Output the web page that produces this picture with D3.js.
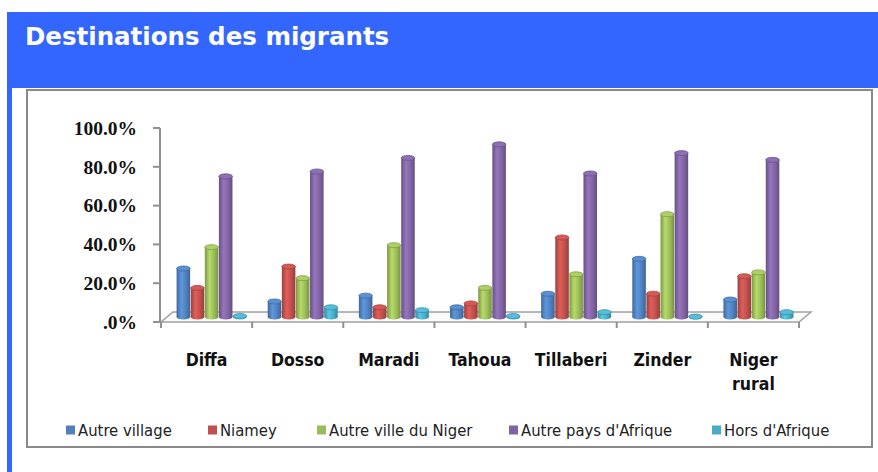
<!DOCTYPE html>
<html>
<head>
<meta charset="utf-8">
<script src="https://cdn.jsdelivr.net/npm/d3@7"></script>
<style>
  html, body { margin: 0; padding: 0; background: #fff; }
  svg { display: block; }
</style>
</head>
<body>
<div id="chart"></div>
<script>
// data
var categories = ["Diffa", "Dosso", "Maradi", "Tahoua", "Tillaberi", "Zinder", "Niger rural"];
var seriesNames = ["Autre village", "Niamey", "Autre ville du Niger", "Autre pays d'Afrique", "Hors d'Afrique"];
var autreVillage = [0.25, 0.08, 0.11, 0.05, 0.12, 0.30, 0.09];
var niamey       = [0.15, 0.26, 0.05, 0.07, 0.41, 0.12, 0.21];
var autreVille   = [0.36, 0.20, 0.37, 0.15, 0.22, 0.53, 0.23];
var autrePays    = [0.725, 0.75, 0.82, 0.89, 0.74, 0.845, 0.81];
var horsAfrique  = [0.005, 0.05, 0.035, 0.005, 0.025, 0.002, 0.025];
var yTicks = [0, 0.2, 0.4, 0.6, 0.8, 1.0];
var yTickLabels = [".0%", "20.0%", "40.0%", "60.0%", "80.0%", "100.0%"];

var seriesValues = [autreVillage, niamey, autreVille, autrePays, horsAfrique];
var colors = ["#4F81BD", "#C0504D", "#9BBB59", "#8064A2", "#4BACC6"];

var width = 878, height = 472;
var depthX = 12, depthY = 10; // floor depth
var barDx = 5, barDy = 5;

var svg = d3.select("#chart").append("svg")
  .attr("width", width)
  .attr("height", height);

// banner + left strip
svg.append("rect").attr("x", 7).attr("y", 12).attr("width", width - 7).attr("height", 76).attr("fill", "#3366FF");
svg.append("rect").attr("x", 7).attr("y", 88).attr("width", 5).attr("height", height - 88).attr("fill", "#3366FF");
svg.append("text")
  .attr("x", 25).attr("y", 45)
  .attr("font-family", "'DejaVu Sans', Verdana, sans-serif")
  .attr("font-weight", "bold")
  .attr("font-size", "24.5px")
  .attr("fill", "#fff")
  .text("Destinations des migrants");

// chart frame
svg.append("rect")
  .attr("x", 27).attr("y", 90).attr("width", 845).attr("height", 357)
  .attr("fill", "#fff")
  .attr("stroke", "#8a8a8a")
  .attr("stroke-width", 2);

var x = d3.scaleBand().domain(categories).range([161, 799]);
var x1 = d3.scaleBand().domain(seriesNames).range([0, x.bandwidth()]).paddingInner(0.04).paddingOuter(0.75);
var y = d3.scaleLinear().domain([0, 1]).range([322, 128]);

var defs = svg.append("defs");
colors.forEach(function (c, i) {
  var base = d3.color(c);
  var g = defs.append("linearGradient").attr("id", "cyl" + i).attr("x1", "0%").attr("x2", "100%");
  g.append("stop").attr("offset", "0%").attr("stop-color", base.darker(0.6));
  g.append("stop").attr("offset", "35%").attr("stop-color", base.brighter(0.45));
  g.append("stop").attr("offset", "70%").attr("stop-color", base);
  g.append("stop").attr("offset", "100%").attr("stop-color", base.darker(0.7));
});

// floor
var x0 = x.range()[0], xN = x.range()[1];
svg.append("polygon")
  .attr("points", [[x0, y(0)], [xN, y(0)], [xN + depthX, y(0) - depthY], [x0 + depthX, y(0) - depthY]].join(" "))
  .attr("fill", "#fafafa")
  .attr("stroke", "#a0a0a0")
  .attr("stroke-width", 1.5);

// value axis
var gy = svg.append("g");
gy.append("line")
  .attr("x1", 160).attr("x2", 160)
  .attr("y1", y(1)).attr("y2", y(0))
  .attr("stroke", "#909090").attr("stroke-width", 2);
gy.selectAll(".tk").data(yTicks).join("line")
  .attr("x1", 153).attr("x2", 160)
  .attr("y1", function (d) { return y(d); }).attr("y2", function (d) { return y(d); })
  .attr("stroke", "#909090").attr("stroke-width", 2);
gy.selectAll(".lb").data(yTicks).join("text")
  .attr("x", 137)
  .attr("y", function (d) { return y(d); })
  .attr("dy", "0.35em")
  .attr("text-anchor", "end")
  .attr("font-family", "'Liberation Serif', 'DejaVu Serif', serif")
  .attr("font-weight", "bold")
  .attr("font-size", "19.5px")
  .attr("fill", "#111")
  .text(function (d, i) { return yTickLabels[i]; });

// category ticks
var bounds = categories.map(function (c) { return x(c); }).concat([xN]);
svg.selectAll(".ctk").data(bounds).join("line")
  .attr("x1", function (d) { return d; }).attr("x2", function (d) { return d; })
  .attr("y1", y(0)).attr("y2", y(0) + 6)
  .attr("stroke", "#909090").attr("stroke-width", 2);

// category labels
var catLabels = svg.selectAll(".cl").data(categories).join("text")
  .attr("x", function (d) { return x(d) + x.bandwidth() / 2; })
  .attr("y", 366)
  .attr("text-anchor", "middle")
  .attr("font-family", "'DejaVu Sans Condensed', 'DejaVu Sans', sans-serif")
  .attr("font-stretch", "condensed")
  .attr("font-weight", "bold")
  .attr("font-size", "17.5px")
  .attr("fill", "#111");
catLabels.each(function (d) {
  var words = d.split(" ");
  var t = d3.select(this);
  words.forEach(function (w, i) {
    t.append("tspan").attr("x", x(d) + x.bandwidth() / 2).attr("dy", i === 0 ? 0 : 24).text(w);
  });
});

// cylinders
var bars = [];
categories.forEach(function (c, ci) {
  seriesNames.forEach(function (s, si) {
    bars.push({ cat: c, series: s, si: si, value: seriesValues[si][ci] });
  });
});
var ry = 2.5;
var gb = svg.append("g");
bars.forEach(function (b) {
  var bx = x(b.cat) + x1(b.series) + barDx;
  var bw = x1.bandwidth();
  var yTop = y(b.value) - barDy;
  var yBot = y(0) - barDy;
  var base = d3.color(colors[b.si]);
  var g = gb.append("g");
  g.append("ellipse")
    .attr("cx", bx + bw / 2).attr("cy", yBot)
    .attr("rx", bw / 2).attr("ry", ry)
    .attr("fill", "url(#cyl" + b.si + ")");
  g.append("rect")
    .attr("x", bx).attr("y", yTop)
    .attr("width", bw).attr("height", Math.max(0, yBot - yTop))
    .attr("fill", "url(#cyl" + b.si + ")");
  g.append("ellipse")
    .attr("cx", bx + bw / 2).attr("cy", yTop)
    .attr("rx", bw / 2).attr("ry", ry)
    .attr("fill", base.brighter(0.3))
    .attr("stroke", base.darker(0.5))
    .attr("stroke-width", 0.8);
});

// legend
var legendX = [66, 208, 317, 509, 712];
var lg = svg.selectAll(".lg").data(seriesNames).join("g")
  .attr("transform", function (d, i) { return "translate(" + legendX[i] + ",430)"; });
lg.append("rect")
  .attr("x", 0).attr("y", -4.5).attr("width", 9).attr("height", 9)
  .attr("fill", function (d, i) { return colors[i]; });
lg.append("text")
  .attr("x", 12).attr("dy", "0.35em")
  .attr("font-family", "'DejaVu Sans Condensed', 'DejaVu Sans', sans-serif")
  .attr("font-stretch", "condensed")
  .attr("font-size", "16.5px")
  .attr("fill", "#222")
  .text(function (d) { return d; });
</script>
</body>
</html>
